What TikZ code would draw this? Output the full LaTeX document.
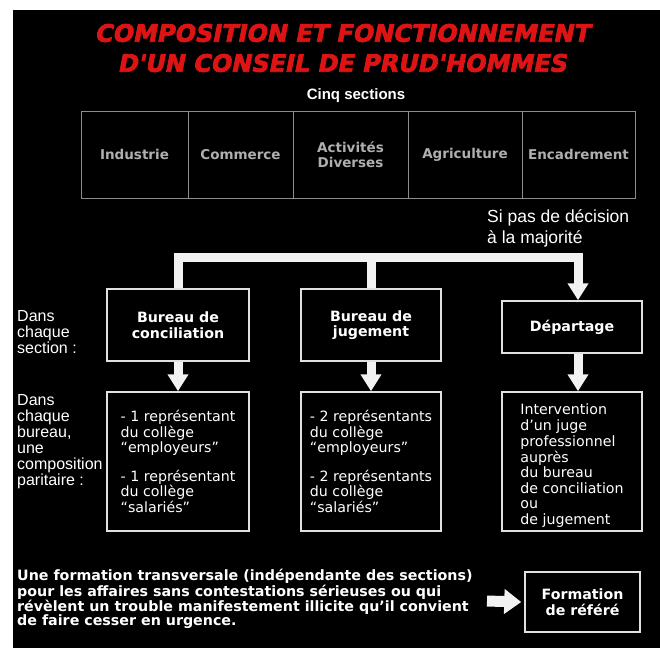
\documentclass[tikz,border=0pt]{standalone}
\usepackage{fontspec}
\usetikzlibrary{arrows.meta,calc}
\setmainfont{DejaVu Sans}
\newfontfamily\narrowfont{Liberation Sans}
\newfontfamily\titlefont[FakeSlant=0.2,FakeBold=3]{DejaVu Sans}
\definecolor{titlered}{RGB}{222,20,20}
\definecolor{secgray}{RGB}{175,175,175}
\definecolor{linegray}{RGB}{140,140,140}
\definecolor{boxline}{RGB}{225,225,225}
\definecolor{barwhite}{RGB}{242,242,242}
\begin{document}
\begin{tikzpicture}[x=1pt,y=-1pt,
  seccell/.style={draw=linegray,line width=1pt,minimum height=87pt,inner sep=0pt,text=secgray,font=\fontsize{13.5}{15}\selectfont\bfseries,align=center},
  headbox/.style={draw=boxline,line width=1.5pt,text=white,font=\fontsize{14.2}{15.5}\selectfont\bfseries,align=center,inner sep=0pt},
  detailbox/.style={draw=boxline,line width=1.5pt,text=white,font=\fontsize{14.2}{15.6}\selectfont,align=left,inner sep=0pt,minimum width=140pt,minimum height=139pt},
  sidelabel/.style={text=white,font=\narrowfont\fontsize{16}{16}\selectfont,align=left,anchor=west,inner sep=0pt},
  bar/.style={draw=barwhite,line width=9pt},
  bararrow/.style={bar,-{Triangle[width=20pt,length=17pt]}},
]
\useasboundingbox (0,0) rectangle (660,648);
\fill[white] (0,0) rectangle (660,648);
\fill[black] (13,10) rectangle (660,648);

\node[font=\titlefont\fontsize{24}{30}\selectfont\bfseries,text=titlered,align=center] (title) at (342,48) {COMPOSITION ET FONCTIONNEMENT\\D'UN CONSEIL DE PRUD'HOMMES};

\node[text=white,font=\narrowfont\fontsize{15}{17}\selectfont\bfseries] (cinq) at (356,96) {Cinq sections};

\node[seccell,minimum width=107pt] (s1) at (134.5,154.5) {\raisebox{-2pt}{Industrie}};
\node[seccell,minimum width=105pt] (s2) at (240.5,154.5) {\raisebox{-2pt}{Commerce}};
\node[seccell,minimum width=115pt] (s3) at (350.5,154.5) {Activités\\Diverses};
\node[seccell,minimum width=114pt] (s4) at (465,154.5) {\raisebox{-2pt}{Agriculture}};
\node[seccell,minimum width=113pt] (s5) at (578.5,154.5) {\raisebox{-2pt}{Encadrement}};

\node[sidelabel,font=\narrowfont\fontsize{17.5}{21}\selectfont] (si) at (487,228) {Si pas de décision\\à la majorité};

\node[headbox,minimum width=142pt,minimum height=72pt] (bc) at (178,325) {Bureau de\\conciliation};
\node[headbox,minimum width=140pt,minimum height=72pt] (bj) at (371,325) {Bureau de\\jugement};
\node[headbox,minimum width=140pt,minimum height=52pt] (dp) at (572,327) {Départage};

\node[sidelabel] (l1) at (17,332) {Dans\\chaque\\section :};

\node[detailbox,minimum width=142pt] (lc) at (178,461.5) {- 1 représentant\\du collège\\“employeurs”\\[13pt]- 1 représentant\\du collège\\“salariés”};
\node[detailbox] (lj) at (371,461.5) {- 2 représentants\\du collège\\“employeurs”\\[13pt]- 2 représentants\\du collège\\“salariés”};
\node[detailbox] (ld) at (572,461.5) {\raisebox{-5pt}[\height][\depth]{\begin{tabular}{@{}l@{}}Intervention\\d’un juge\\professionnel\\auprès\\du bureau\\de conciliation\\ou\\de jugement\end{tabular}}};

\node[sidelabel] (l2) at (17,442) {Dans\\chaque\\bureau,\\une\\composition\\paritaire :};

\node[text=white,font=\fontsize{14.25}{14}\selectfont\bfseries,align=left,anchor=west,inner sep=0pt] (para) at (17,599) {Une formation transversale (indépendante des sections)\\pour les affaires sans contestations sérieuses ou qui\\révèlent un trouble manifestement illicite qu’il convient\\de faire cesser en urgence.};
\node[headbox,minimum width=115pt,minimum height=60pt] (ref) at (582.5,602) {Formation\\de référé};

\coordinate (barY) at (0,257);
\coordinate (dpin) at ([xshift=6pt]dp.north);
\coordinate (dpout) at ([xshift=6pt]dp.south);
\coordinate (ldin) at ([xshift=6pt]ld.north);
\draw[bar] (bj.north) -- (bj.north |- barY);
\draw[bararrow,line join=miter] (bc.north) |- (dpin |- barY) -- (dpin);
\draw[bararrow] (bc.south) -- (lc.north);
\draw[bararrow] (bj.south) -- (lj.north);
\draw[bararrow] (dpout) -- (ldin);
\coordinate (refarrow) at (487,601);
\draw[draw=barwhite,line width=11pt,-{Triangle[width=24pt,length=17pt]}] (refarrow) -- ([xshift=-3pt]ref.west);
\end{tikzpicture}
\end{document}
